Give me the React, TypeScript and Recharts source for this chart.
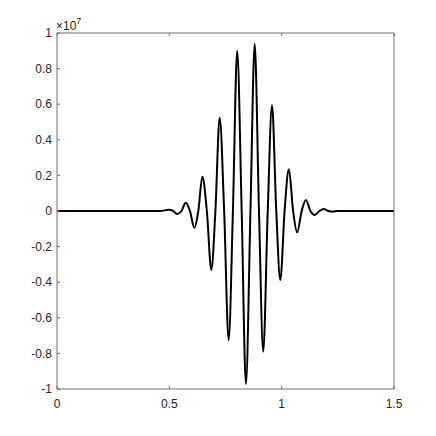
import { LineChart, Line, XAxis, YAxis } from 'recharts';

// x positions (s) and signal values in units of 1e7
const xValues = [
  0, 0.3, 0.46, 0.498, 0.517, 0.535, 0.554, 0.573, 0.592, 0.611, 0.629, 0.647,
  0.667, 0.687, 0.705, 0.724, 0.744, 0.764, 0.783, 0.802, 0.822, 0.841, 0.861,
  0.88, 0.899, 0.918, 0.938, 0.957, 0.976, 0.994, 1.013, 1.032, 1.051, 1.069,
  1.089, 1.108, 1.128, 1.147, 1.168, 1.188, 1.208, 1.228, 1.25, 1.32, 1.5,
];
const yValues = [
  0, 0, 0, 0.007, 0, -0.017, 0, 0.047, 0, -0.094, 0, 0.193,
  0, -0.331, 0, 0.524, 0, -0.725, 0, 0.9, 0, -0.972, 0,
  0.938, 0, -0.79, 0, 0.594, 0, -0.388, 0, 0.234, 0, -0.12,
  0, 0.062, 0, -0.022, 0, 0.011, 0, -0.003, 0, 0, 0,
];

const xTicks = [0, 0.5, 1, 1.5];
const yTicks = [-1, -0.8, -0.6, -0.4, -0.2, 0, 0.2, 0.4, 0.6, 0.8, 1];

const data = xValues.map((x, i) => ({ x, y: yValues[i] }));

const axisColor = '#707070';
const textColor = '#262626';
const font = '"Liberation Sans", Arial, sans-serif';

const NoTick = () => <g />;

export default function App() {
  return (
    <div
      style={{
        position: 'absolute',
        left: 0,
        top: 0,
        width: 436,
        height: 436,
        background: '#fff',
        fontFamily: font,
      }}
    >
      <LineChart
        width={436}
        height={436}
        data={data}
        margin={{ top: 32, right: 41, bottom: 17, left: 0 }}
      >
        <XAxis
          dataKey="x"
          type="number"
          domain={[0, 1.5]}
          ticks={xTicks}
          allowDataOverflow
          height={30}
          tickSize={-3}
          tickMargin={13}
          stroke={axisColor}
          tick={{ fill: textColor, fontSize: 12, fontFamily: font }}
        />
        <XAxis
          xAxisId="top"
          orientation="top"
          dataKey="x"
          type="number"
          domain={[0, 1.5]}
          ticks={xTicks}
          height={1}
          tickSize={-3}
          stroke={axisColor}
          tick={<NoTick />}
        />
        <YAxis
          type="number"
          domain={[-1, 1]}
          ticks={yTicks}
          allowDataOverflow
          width={57}
          tickSize={-3}
          tickMargin={8}
          stroke={axisColor}
          tick={{ fill: textColor, fontSize: 12, fontFamily: font }}
        />
        <YAxis
          yAxisId="right"
          orientation="right"
          type="number"
          domain={[-1, 1]}
          ticks={yTicks}
          width={1}
          tickSize={-3}
          stroke={axisColor}
          tick={<NoTick />}
        />
        <Line
          dataKey="y"
          type="monotone"
          stroke="#000"
          strokeWidth={2}
          dot={false}
          isAnimationActive={false}
        />
      </LineChart>
      <div
        style={{
          position: 'absolute',
          left: 56,
          top: 20,
          fontSize: 12,
          lineHeight: '12px',
          color: textColor,
          whiteSpace: 'nowrap',
        }}
      >
        ×10
        <span style={{ fontSize: 9, position: 'relative', top: -6 }}>7</span>
      </div>
    </div>
  );
}
